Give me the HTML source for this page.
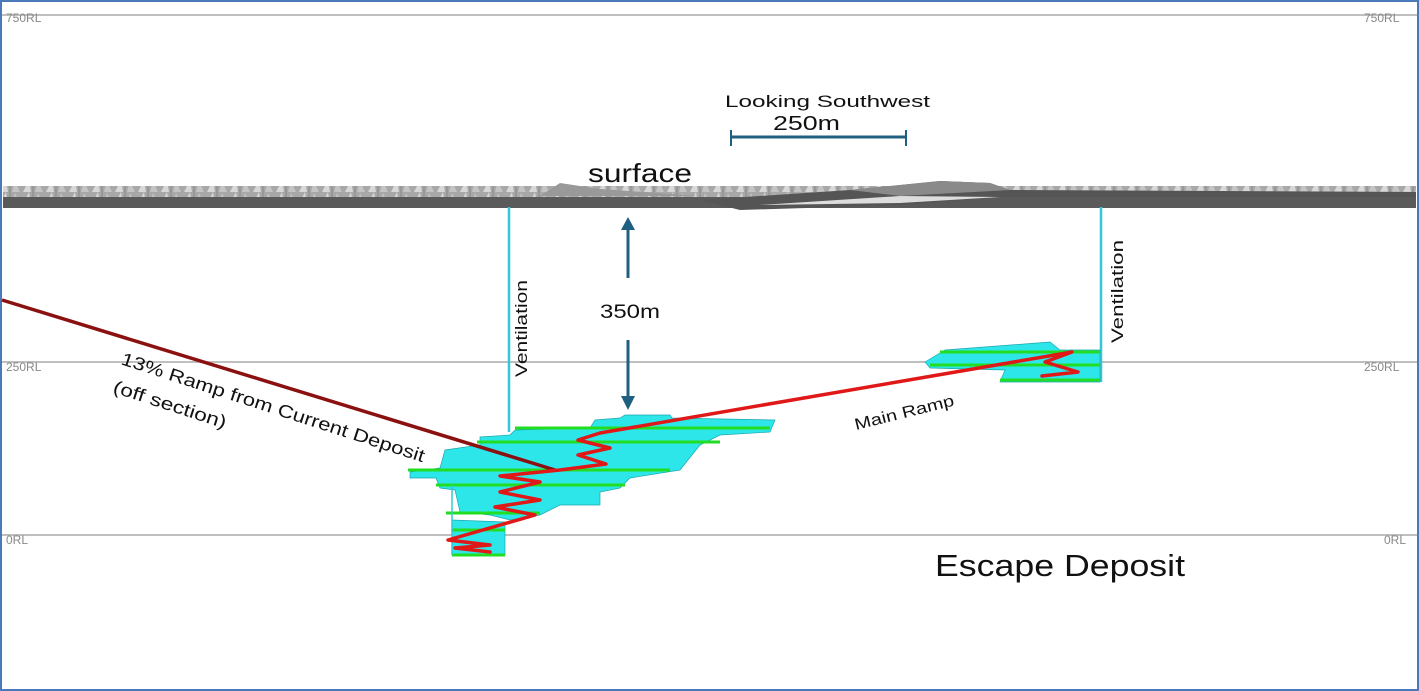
<!DOCTYPE html>
<html><head><style>
html,body{margin:0;padding:0;background:#fff;}
svg{display:block;font-family:"Liberation Sans",sans-serif;}
</style></head><body>
<svg width="1419" height="691" viewBox="0 0 1419 691" xmlns="http://www.w3.org/2000/svg">
<defs>
<pattern id="tex" width="23" height="12" patternUnits="userSpaceOnUse">
<rect width="23" height="12" fill="#a8a8a8"/>
<path d="M0 12 L6 0 L8 12Z" fill="#d8d8d8"/>
<path d="M12 12 L15 1 L20 12Z" fill="#c4c4c4"/>
<line x1="10" y1="0" x2="10" y2="12" stroke="#888" stroke-width="1"/>
</pattern>
</defs>
<rect x="1" y="1" width="1417" height="689" fill="#fff" stroke="#4a78b8" stroke-width="2"/>
<g stroke="#aaa" stroke-width="1.5">
<line x1="2" y1="15" x2="1417" y2="15"/>
<line x1="2" y1="362" x2="1417" y2="362"/>
<line x1="2" y1="535" x2="1417" y2="535"/>
</g>
<g font-size="12" fill="#888">
<text x="6" y="22">750RL</text><text x="1364" y="22">750RL</text>
<text x="6" y="371">250RL</text><text x="1364" y="371">250RL</text>
<text x="6" y="544">0RL</text><text x="1384" y="544">0RL</text>
</g>
<rect x="3" y="186" width="1413" height="22" fill="#5e5e5e"/>
<rect x="3" y="186" width="1413" height="11" fill="url(#tex)"/>
<path d="M3 197 L1416 197 L1416 208 L3 208Z" fill="#5a5a5a"/>
<path d="M540 196 L560 183 L600 189 L700 196Z" fill="#999"/>
<path d="M700 200 L850 190 L940 181 L990 183 L1010 190 L1416 192 L1416 197 L1000 197 L900 205 L740 210Z" fill="#555"/>
<path d="M850 190 L940 181 L990 183 L1010 190 L900 196Z" fill="#8a8a8a"/>
<path d="M760 205 L900 196 L1000 197 L900 203Z" fill="#ddd"/>
<g stroke="#33c8d4" stroke-width="2.5">
<line x1="509" y1="207" x2="509" y2="432"/>
<line x1="1101" y1="207" x2="1101" y2="382"/>
</g>
<g stroke="#1f5f7f" stroke-width="3" fill="#1f5f7f">
<line x1="628" y1="228" x2="628" y2="278"/>
<path d="M621 230 L628 217 L635 230Z" stroke="none"/>
<line x1="628" y1="340" x2="628" y2="398"/>
<path d="M621 396 L628 410 L635 396Z" stroke="none"/>
<line x1="731" y1="137" x2="906" y2="137"/>
<line x1="731" y1="130" x2="731" y2="146" stroke-width="2"/>
<line x1="906" y1="130" x2="906" y2="146" stroke-width="2"/>
</g>
<g fill="#2de6ea" stroke="#1aa8b0" stroke-width="0.7">
<path d="M410 472 L440 468 L445 450 L480 445 L480 437 L510 435 L515 430 L590 428 L595 420 L620 418 L625 415 L670 415 L672 418 L775 420 L770 432 L720 435 L700 445 L680 470 L630 478 L620 488 L600 492 L600 505 L560 505 L540 515 L510 520 L490 515 L460 512 L455 490 L440 488 L436 478 L410 478Z"/>
<path d="M452 520 L505 522 L505 555 L452 555Z"/>
<path d="M925 362 L945 350 L1050 342 L1060 350 L1100 350 L1100 382 L1000 382 L1005 370 L930 368Z"/>
</g>
<g stroke="#22dd22" stroke-width="3">
<line x1="515" y1="428" x2="770" y2="428"/>
<line x1="477" y1="442" x2="720" y2="442"/>
<line x1="408" y1="470" x2="670" y2="470"/>
<line x1="436" y1="485" x2="625" y2="485"/>
<line x1="446" y1="513" x2="540" y2="513"/>
<line x1="452" y1="530" x2="505" y2="530"/>
<line x1="452" y1="555" x2="505" y2="555"/>
<line x1="940" y1="352" x2="1100" y2="352"/>
<line x1="930" y1="365" x2="1100" y2="365"/>
<line x1="1000" y1="380" x2="1100" y2="380"/>
</g>
<line x1="452" y1="485" x2="452" y2="555" stroke="#33c8d4" stroke-width="1.5"/>
<line x1="2" y1="300" x2="555" y2="470" stroke="#8b1010" stroke-width="3.5"/>
<path d="M560 470 L606 464 L578 455 L610 448 L578 440 L600 433 L1072 352 L1045 362 L1078 372 L1042 376 M560 470 L500 476 L540 482 L500 492 L540 500 L495 507 L535 515 L448 540 L490 545 L455 548 L490 552" fill="none" stroke="#e01818" stroke-width="3.5" stroke-linejoin="round" stroke-linecap="round"/>
<g fill="#111">
<text x="588" y="182" font-size="26" textLength="104" lengthAdjust="spacingAndGlyphs">surface</text>
<text x="725" y="107" font-size="17" textLength="205" lengthAdjust="spacingAndGlyphs">Looking Southwest</text>
<text x="773" y="130" font-size="20" textLength="67" lengthAdjust="spacingAndGlyphs">250m</text>
<text x="600" y="318" font-size="19" textLength="60" lengthAdjust="spacingAndGlyphs">350m</text>
<text x="935" y="576" font-size="31" textLength="250" lengthAdjust="spacingAndGlyphs">Escape Deposit</text>
<text transform="translate(527 377) rotate(-90)" font-size="17" textLength="97" lengthAdjust="spacingAndGlyphs">Ventilation</text>
<text transform="translate(1123 343) rotate(-90)" font-size="17" textLength="103" lengthAdjust="spacingAndGlyphs">Ventilation</text>
<text transform="translate(856 430) rotate(-14)" font-size="16" textLength="102" lengthAdjust="spacingAndGlyphs">Main Ramp</text>
<text transform="translate(120 364) rotate(18)" font-size="18" textLength="318" lengthAdjust="spacingAndGlyphs">13% Ramp from Current Deposit</text>
<text transform="translate(112 392) rotate(18)" font-size="18" textLength="118" lengthAdjust="spacingAndGlyphs">(off section)</text>
</g>
</svg>
</body></html>
